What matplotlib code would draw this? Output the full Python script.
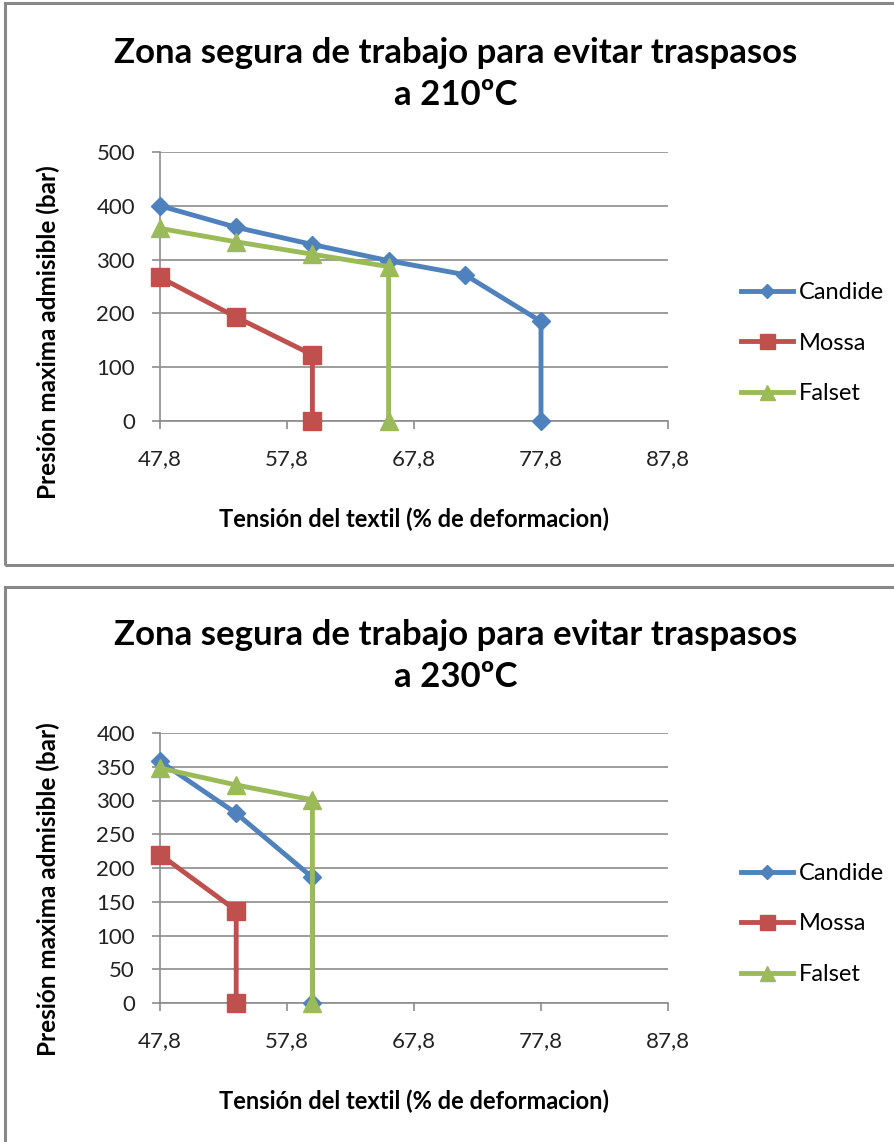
import matplotlib.pyplot as plt
from matplotlib.patches import Rectangle

plt.rcParams['font.family'] = ['Lato', 'DejaVu Sans']

# datos 210ºC
cand_x_210 = [47.8, 53.8, 59.8, 65.8, 71.8, 77.8, 77.8]
cand_y_210 = [400, 360, 328, 298, 272, 185, 0]
moss_x_210 = [47.8, 53.8, 59.8, 59.8]
moss_y_210 = [267, 193, 123, 0]
fals_x_210 = [47.8, 53.8, 59.8, 65.8, 65.8]
fals_y_210 = [358, 333, 310, 287, 0]

# datos 230ºC
cand_x_230 = [47.8, 53.8, 59.8, 59.8]
cand_y_230 = [358, 281, 186, 0]
moss_x_230 = [47.8, 53.8, 53.8]
moss_y_230 = [220, 137, 0]
fals_x_230 = [47.8, 53.8, 59.8, 59.8]
fals_y_230 = [348, 323, 301, 0]

x_ticks = [47.8, 57.8, 67.8, 77.8, 87.8]
x_labels = ["47,8", "57,8", "67,8", "77,8", "87,8"]
series_names = ["Candide", "Mossa", "Falset"]
colores = ["#4F81BD", "#C0504D", "#9BBB59"]
marcadores = ["D", "s", "^"]
msizes = [9.5, 13.5, 13.5]

W, H = 894, 1142
fig = plt.figure(figsize=(W / 100, H / 100), dpi=100)

def px_axes(left, top, right, bottom):
    return fig.add_axes([left / W, 1 - bottom / H, (right - left) / W, (bottom - top) / H])

# marcos grises
for top, bot in [(3, 565), (587, 1160)]:
    fig.patches.append(Rectangle((5 / W, 1 - bot / H), 1.0, (bot - top) / H,
                                 transform=fig.transFigure, fill=False,
                                 edgecolor="#888888", linewidth=2.2))

def panel(top, bottom, datos, ymax, ystep, titulo, title_y, leg_y, ylab_y):
    ax = px_axes(160, top, 668, bottom)
    for (xs, ys), name, c, m, ms in zip(datos, series_names, colores, marcadores, msizes):
        ax.plot(xs, ys, color=c, marker=m, markersize=ms, linewidth=3.5, label=name,
                clip_on=False, zorder=3)
    ax.set_xlim(47.8, 87.8)
    ax.set_ylim(0, ymax)
    ax.set_xticks(x_ticks)
    ax.set_xticklabels(x_labels)
    ax.set_yticks(range(0, ymax + 1, ystep))
    ax.yaxis.grid(True, color="#8c8c8c", linewidth=1.2)
    ax.set_axisbelow(True)
    for s in ["top", "right"]:
        ax.spines[s].set_visible(False)
    for s in ["left", "bottom"]:
        ax.spines[s].set_color("#8c8c8c")
        ax.spines[s].set_linewidth(1.2)
    ax.tick_params(axis="both", colors="#8c8c8c", labelcolor="#222222", labelsize=16,
                   length=6, width=1.2)
    ax.tick_params(axis="x", pad=14)
    ax.tick_params(axis="y", pad=12)
    ax.set_xlabel("Tensión del textil (% de deformacion)", fontsize=17,
                  fontweight="bold", labelpad=28)
    ax.set_ylabel("Presión maxima admisible (bar)", fontsize=17.5, fontweight="bold")
    ax.yaxis.set_label_coords(-0.197, ylab_y)
    fig.text(456 / W, 1 - title_y / H, titulo, ha="center", va="center",
             fontsize=25, fontweight="bold", linespacing=1.4)
    ax.legend(loc="center left", bbox_to_anchor=(720 / W, 1 - leg_y / H),
              bbox_transform=fig.transFigure, frameon=False, fontsize=17,
              handlelength=2.2, labelspacing=1.25, handletextpad=0.25,
              markerscale=0.8)
    return ax

panel(152, 421,
      [(cand_x_210, cand_y_210), (moss_x_210, moss_y_210), (fals_x_210, fals_y_210)],
      500, 100, "Zona segura de trabajo para evitar traspasos\na 210ºC", 74, 343, 0.33)
panel(733, 1003,
      [(cand_x_230, cand_y_230), (moss_x_230, moss_y_230), (fals_x_230, fals_y_230)],
      400, 50, "Zona segura de trabajo para evitar traspasos\na 230ºC", 656, 924, 0.42)

fig.savefig("out.png", dpi=100)
